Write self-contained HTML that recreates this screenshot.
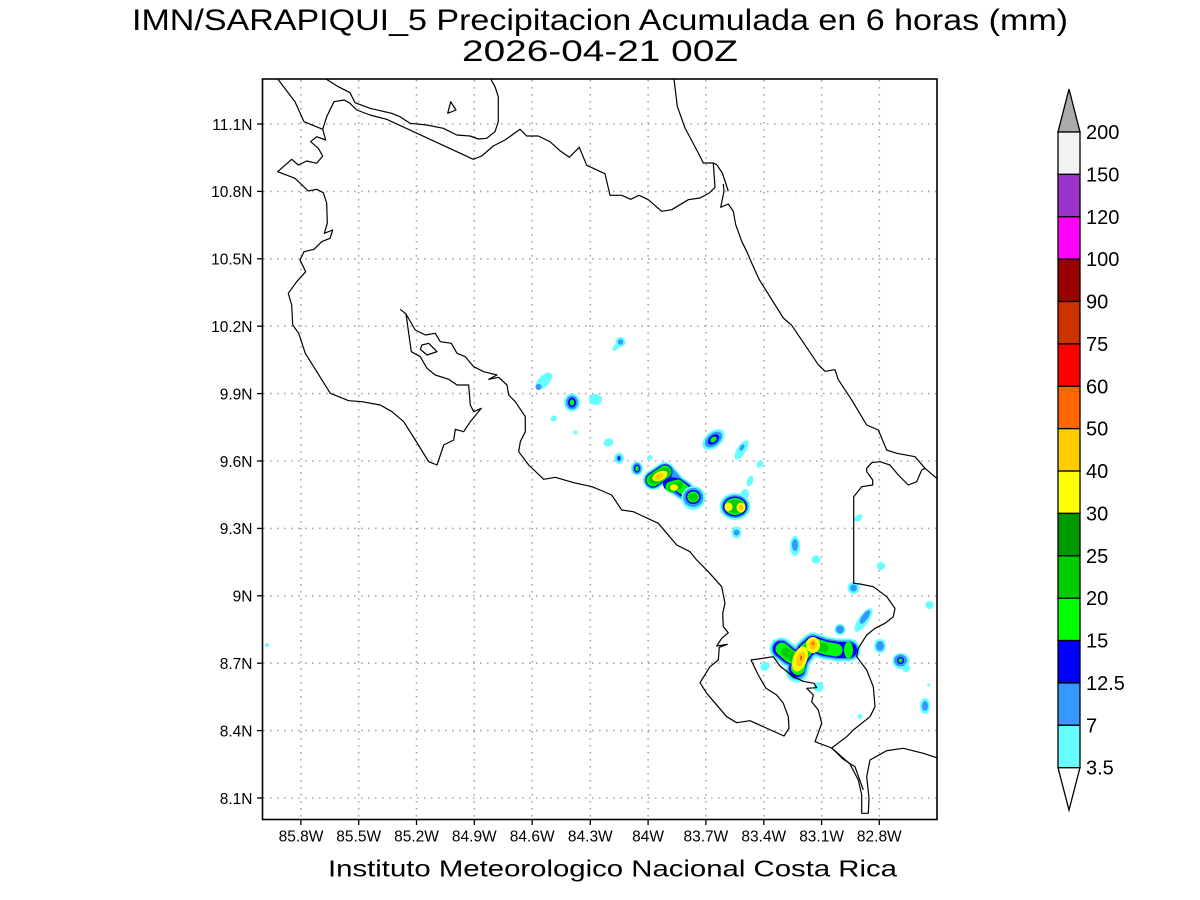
<!DOCTYPE html>
<html>
<head>
<meta charset="utf-8">
<style>
html,body{margin:0;padding:0;background:#fff;}
svg{display:block;}
text{font-family:"Liberation Sans",sans-serif;fill:#000;}
</style>
</head>
<body>
<svg width="1200" height="900" viewBox="0 0 1200 900" xmlns="http://www.w3.org/2000/svg">
<rect x="0" y="0" width="1200" height="900" fill="#fff"/>

<!-- Titles -->
<text x="600" y="30" font-size="30" text-anchor="middle" textLength="936" lengthAdjust="spacingAndGlyphs">IMN/SARAPIQUI_5 Precipitacion Acumulada en 6 horas (mm)</text>
<text x="600" y="61" font-size="30" text-anchor="middle" textLength="276" lengthAdjust="spacingAndGlyphs">2026-04-21 00Z</text>

<!-- Grid -->
<g stroke="#aaaaaa" stroke-width="1.6" stroke-dasharray="1.6 5.4" fill="none">
<line x1="263" y1="124" x2="937" y2="124"/>
<line x1="263" y1="191.4" x2="937" y2="191.4"/>
<line x1="263" y1="258.8" x2="937" y2="258.8"/>
<line x1="263" y1="326.2" x2="937" y2="326.2"/>
<line x1="263" y1="393.6" x2="937" y2="393.6"/>
<line x1="263" y1="461" x2="937" y2="461"/>
<line x1="263" y1="528.4" x2="937" y2="528.4"/>
<line x1="263" y1="595.8" x2="937" y2="595.8"/>
<line x1="263" y1="663.2" x2="937" y2="663.2"/>
<line x1="263" y1="730.6" x2="937" y2="730.6"/>
<line x1="263" y1="798" x2="937" y2="798"/>
<line x1="300.9" y1="80" x2="300.9" y2="819"/>
<line x1="358.7" y1="80" x2="358.7" y2="819"/>
<line x1="416.5" y1="80" x2="416.5" y2="819"/>
<line x1="474.3" y1="80" x2="474.3" y2="819"/>
<line x1="532.2" y1="80" x2="532.2" y2="819"/>
<line x1="590.3" y1="80" x2="590.3" y2="819"/>
<line x1="648.1" y1="80" x2="648.1" y2="819"/>
<line x1="705.9" y1="80" x2="705.9" y2="819"/>
<line x1="763.8" y1="80" x2="763.8" y2="819"/>
<line x1="821.6" y1="80" x2="821.6" y2="819"/>
<line x1="879.3" y1="80" x2="879.3" y2="819"/>
</g>

<!-- Precipitation -->
<g stroke="none">
<!-- 1 -->
<ellipse cx="616" cy="347" rx="4.5" ry="2.5" transform="rotate(-50 616 347)" fill="#66ffff"/>
<circle cx="620.5" cy="342" r="5" fill="#66ffff"/>
<circle cx="620.5" cy="342" r="2.7" fill="#3399ff"/>
<!-- 2 -->
<ellipse cx="544" cy="381" rx="10.5" ry="5.5" transform="rotate(-45 544 381)" fill="#66ffff"/>
<circle cx="538.5" cy="387" r="3" fill="#3399ff"/>
<!-- 3 -->
<ellipse cx="572" cy="402.5" rx="8" ry="9" fill="#66ffff"/>
<ellipse cx="572" cy="402.5" rx="6" ry="7" fill="#3399ff"/>
<ellipse cx="572" cy="402.5" rx="4" ry="5" fill="#0000ff"/>
<ellipse cx="572" cy="402.5" rx="2.2" ry="3" fill="#00ff00"/>
<!-- 4 -->
<ellipse cx="595.5" cy="399.5" rx="6.5" ry="5.5" fill="#66ffff"/>
<circle cx="553.7" cy="418.5" r="3" fill="#66ffff"/>
<circle cx="575.5" cy="432.5" r="2" fill="#66ffff"/>
<ellipse cx="608.5" cy="442.5" rx="5" ry="4" transform="rotate(-20 608.5 442.5)" fill="#66ffff"/>
<!-- 8 -->
<ellipse cx="619" cy="458.3" rx="5" ry="5.5" fill="#66ffff"/>
<ellipse cx="619" cy="458.3" rx="2.6" ry="3.2" fill="#3399ff"/>
<ellipse cx="619" cy="458.3" rx="0.9" ry="2" fill="#0000ff"/>
<circle cx="650" cy="457.5" r="2.5" fill="#66ffff"/>
<!-- 10 -->
<ellipse cx="637" cy="468.5" rx="6" ry="7" fill="#66ffff"/>
<ellipse cx="637" cy="468.5" rx="4.5" ry="5.5" fill="#3399ff"/>
<ellipse cx="637" cy="468.5" rx="3" ry="4" fill="#0000ff"/>
<ellipse cx="637" cy="468.5" rx="1.8" ry="2.6" fill="#00ff00"/>
<!-- blob 1 and 2 -->
<g fill="none" stroke-linecap="round" stroke-linejoin="round">
<polyline points="653,480 665,472 676,485 685,491" stroke="#66ffff" stroke-width="20"/>
<polyline points="653,480 665,472 676,485 685,491" stroke="#3399ff" stroke-width="17"/>
<polyline points="653,480 665,472" stroke="#0000ff" stroke-width="15"/>
<polyline points="670,484 677,485 684,490" stroke="#0000ff" stroke-width="14"/>
<polyline points="653,480 665,472" stroke="#00ff00" stroke-width="13"/>
<polyline points="671,487 678,485 683,489" stroke="#00ff00" stroke-width="11"/>
<polyline points="654,479 665,473" stroke="#00cc00" stroke-width="11"/>
<polyline points="672,488 679,485" stroke="#00cc00" stroke-width="8"/>
</g>
<ellipse cx="660" cy="476" rx="8" ry="4.5" transform="rotate(-25 660 476)" fill="#ffff00"/>
<ellipse cx="659" cy="476.5" rx="5" ry="2.8" transform="rotate(-25 659 476.5)" fill="#ffcc00"/>
<ellipse cx="674" cy="487.5" rx="4" ry="3.2" fill="#ffff00"/>
<!-- 13 -->
<ellipse cx="693.3" cy="498" rx="12" ry="12" fill="#66ffff"/>
<ellipse cx="693.3" cy="497.5" rx="10" ry="9.5" fill="#3399ff"/>
<ellipse cx="693.3" cy="497" rx="7.5" ry="7" fill="#0000ff"/>
<ellipse cx="693.3" cy="497" rx="6" ry="5.5" fill="#00ff00"/>
<ellipse cx="693.3" cy="497" rx="4.5" ry="4" fill="#00cc00"/>
<!-- 14 -->
<ellipse cx="713.5" cy="439.5" rx="13" ry="8" transform="rotate(-40 713.5 439.5)" fill="#66ffff"/>
<ellipse cx="713.5" cy="439.5" rx="10" ry="6" transform="rotate(-40 713.5 439.5)" fill="#3399ff"/>
<ellipse cx="713.5" cy="439.5" rx="6.5" ry="4" transform="rotate(-40 713.5 439.5)" fill="#0000ff"/>
<ellipse cx="713.5" cy="439.5" rx="3.5" ry="2.5" transform="rotate(-40 713.5 439.5)" fill="#00ff00"/>
<!-- 15 -->
<ellipse cx="741.5" cy="450" rx="11" ry="4.5" transform="rotate(-58 741.5 450)" fill="#66ffff"/>
<ellipse cx="742" cy="447.5" rx="3.5" ry="2" transform="rotate(-58 742 447.5)" fill="#3399ff"/>
<ellipse cx="760" cy="464" rx="3" ry="4" transform="rotate(30 760 464)" fill="#66ffff"/>
<ellipse cx="750" cy="481" rx="3" ry="5.5" transform="rotate(20 750 481)" fill="#66ffff"/>
<!-- 18 -->
<ellipse cx="735" cy="506.5" rx="15.5" ry="13.5" fill="#66ffff"/>
<ellipse cx="745" cy="494" rx="4" ry="5" fill="#66ffff"/>
<ellipse cx="735" cy="506.5" rx="13.5" ry="11.5" fill="#3399ff"/>
<ellipse cx="735" cy="506.5" rx="12" ry="10" fill="#0000ff"/>
<ellipse cx="735" cy="506.5" rx="10.5" ry="8.5" fill="#00ff00"/>
<ellipse cx="735" cy="506.5" rx="9" ry="7" fill="#00cc00"/>
<ellipse cx="728.5" cy="507" rx="4" ry="4.5" fill="#ffff00"/>
<ellipse cx="741" cy="507.5" rx="4.5" ry="5" fill="#ffff00"/>
<ellipse cx="741" cy="507.5" rx="2.5" ry="3" fill="#ffcc00"/>
<!-- 19 -->
<ellipse cx="736.5" cy="532.5" rx="5" ry="6" fill="#66ffff"/>
<circle cx="736.5" cy="532.5" r="3" fill="#3399ff"/>
<ellipse cx="858.5" cy="518" rx="4.5" ry="3" transform="rotate(-40 858.5 518)" fill="#66ffff"/>
<ellipse cx="795" cy="546" rx="5" ry="10" fill="#66ffff"/>
<ellipse cx="795" cy="545" rx="3" ry="6" fill="#3399ff"/>
<ellipse cx="816" cy="559.5" rx="4.5" ry="4" fill="#66ffff"/>
<circle cx="881" cy="566" r="4" fill="#66ffff"/>
<circle cx="853.5" cy="588" r="6" fill="#66ffff"/>
<circle cx="853.5" cy="588" r="3.5" fill="#3399ff"/>
<circle cx="929.5" cy="605" r="4" fill="#66ffff"/>
<!-- 26 -->
<ellipse cx="863.5" cy="620" rx="5" ry="14" transform="rotate(35 863.5 620)" fill="#66ffff"/>
<ellipse cx="865" cy="617" rx="3" ry="8" transform="rotate(35 865 617)" fill="#3399ff"/>
<circle cx="840" cy="629.5" r="5.5" fill="#66ffff"/>
<circle cx="840" cy="629.5" r="4" fill="#3399ff"/>
<!-- big SE blob -->
<g fill="none" stroke-linecap="round" stroke-linejoin="round">
<polyline points="781,649 790,656 799,660 806,650 813,644 825,648 838,650 849,650" stroke="#66ffff" stroke-width="23"/>
<polyline points="799,660 797,671" stroke="#66ffff" stroke-width="23"/>
<polyline points="781,649 790,656 799,660 806,650 813,644 825,648 838,650 849,650" stroke="#3399ff" stroke-width="19"/>
<polyline points="799,660 797,670" stroke="#3399ff" stroke-width="19"/>
<polyline points="781,649 790,656 799,660 806,650 813,644 825,648 838,650 849,650" stroke="#0000ff" stroke-width="16"/>
<polyline points="799,660 797,669" stroke="#0000ff" stroke-width="16"/>
<polyline points="782,649 790,656 799,660 806,650 813,644 825,648 836,650" stroke="#00ff00" stroke-width="13"/>
<polyline points="799,660 798,668" stroke="#00ff00" stroke-width="14"/>
<polyline points="786,652 794,658 800,658 808,648 814,645 824,648" stroke="#00cc00" stroke-width="9"/>
</g>
<ellipse cx="848.5" cy="650" rx="4.5" ry="8.5" fill="#00ff00"/>
<ellipse cx="800" cy="659" rx="7" ry="13" transform="rotate(20 800 659)" fill="#ffff00"/>
<ellipse cx="800.5" cy="659" rx="4" ry="8" transform="rotate(20 800.5 659)" fill="#ffcc00"/>
<ellipse cx="801" cy="658" rx="1" ry="2.5" fill="#ff6600"/>
<ellipse cx="813" cy="645" rx="7" ry="8" fill="#ffff00"/>
<ellipse cx="813" cy="644.5" rx="4" ry="5" fill="#ffcc00"/>
<circle cx="813" cy="643.5" r="1.5" fill="#ff6600"/>
<!-- others -->
<ellipse cx="765" cy="666.5" rx="5" ry="4" transform="rotate(-30 765 666.5)" fill="#66ffff"/>
<circle cx="818.5" cy="687" r="5" fill="#66ffff"/>
<circle cx="860" cy="716.5" r="2.5" fill="#66ffff"/>
<ellipse cx="880" cy="646" rx="6" ry="7" fill="#66ffff"/>
<ellipse cx="880" cy="646" rx="4" ry="5" fill="#3399ff"/>
<ellipse cx="901" cy="661" rx="8.5" ry="8" fill="#66ffff"/>
<ellipse cx="906" cy="668" rx="4" ry="4" fill="#66ffff"/>
<ellipse cx="900.5" cy="660.5" rx="6.5" ry="6" fill="#3399ff"/>
<ellipse cx="900.5" cy="660.5" rx="3.5" ry="3.5" fill="#0000ff"/>
<circle cx="900.5" cy="660.5" r="2" fill="#00ff00"/>
<ellipse cx="925" cy="706" rx="5" ry="8" fill="#66ffff"/>
<ellipse cx="925" cy="706" rx="3" ry="5" fill="#3399ff"/>
<circle cx="928.7" cy="685" r="1.5" fill="#66ffff"/>
<circle cx="267" cy="645" r="2" fill="#66ffff"/>
</g>

<!-- Coastlines -->
<g fill="none" stroke="#000" stroke-width="1.2" stroke-linejoin="round">
<polyline points="277.7,79 295,101.7 304,121.7 322.7,129.3 325.7,140 316.7,136.7 310.7,141.7 318.3,148.3 322.7,156 316.7,163.3 306.7,161 298.3,165 291.7,159.3 277.7,171.7 295,178.3 308.3,191 316.7,189.3 323.3,192.7 326.7,203.3 327.3,223.3 324.3,233.3 332.7,230 330,238.3 321.7,241.7 314,249.3 304,251.7 300,260 305.7,271.7 296.7,281.7 288.3,293.3 291.7,305 292.7,325 298.7,333.3 305.3,353.3 330.3,393.3 348.7,400.7 362,401.7 380.3,405 392,411.7 403.7,421.7 415.3,440 428.7,461.7 437,465 443.7,445 453.7,440 455.3,429.3 463.7,431.7 470.3,421.7 481.3,408.3 473.7,411.7 470.3,405 468.7,385 457,385 448.7,379.3 435.3,375 427,368.3 420.3,356.7 411.3,351.7 406,314 400.3,309.3"/>
<polyline points="406,314 415.3,330 425.3,335 435.3,333.3 440.3,341.7 451.3,343.3 457,353.3 465.3,356.7 473.7,366.7 483.7,371.7 497,375 488.7,379.3 498.7,377.3 507,385 508.7,395 515.3,401.7 525.3,416.7 525.3,431.7 520.3,441.7 518.7,451.7 528.7,465 543.7,479.3 555.3,477.3 573.7,482.7 592,486.7 600,490 611.7,495 621.7,510 633.3,511.7 658.3,523.3 676.7,545 690,551.7 696.7,560 708.3,571.7 721.7,586.7 725,603.3 722.7,613.3 723.3,626.7 728.3,632.7 721.7,638.3 716.7,646 727.3,644.3 719.3,647.3 718.3,660 710,666.7 700,682.7 706.7,693.3 726.7,716.7 736.7,722.7 750,720.7 784,736 789,728.3 788.3,716.7 783.3,703.3 776.7,695 766,688.3 758.3,675 751,660 773.3,656.7 780,666 793.3,676.7 803.3,681.3 814,683.3 816.7,687.7 806.7,688.3 813.3,695 811.7,701.7 818.3,710 821.7,723.3 815,741.7 831.7,748 850,764 858.3,780 861.7,795 861.7,813.3 868.3,813.3 869,798.3 866.7,776.7 870,760 886.7,750.7 903.3,748.3 923.3,753.3 936.7,757.7"/>
<polyline points="831.7,748 843.3,759.3 855,766.7 863.3,790"/>
<polyline points="831.7,748 846.7,736.7 853.3,730 870,716.7 875,706.7 873.3,686.7 866.7,670 856.7,656.7 858.3,648.3 866.7,635 875,628.3 885,623.3 893.3,616.7 895,608.3 886.7,596.7 873.3,586.7 860,584 853.7,583.3 853.7,496.7 861.7,486.7 872.7,485 872.7,480 866.7,471.7 866.7,468.3 871.7,462.7 880,461.7 890,465 898.3,475 908.3,485 916.7,481.7 921.7,470 925,468.3"/>
<polyline points="326,79 338.3,86.7 350,92.7 355,102.7 370,108.3 391.7,113.3 400,116.7 410,123.3 426.7,125 443.3,128.3 456.7,135 470,136 478.3,139 486.7,138.3 495,131.7 498.3,121.7 498.3,96.7 495,86.7 490.7,79"/>
<polyline points="322.7,129.3 326.7,116.7 334,101.7 344.3,100 350,103.3 356.7,110 370,115 386.7,119.3 473.3,159.3 481.7,156 493.3,146 505,140 520,129.3 526.7,136 538.3,136 550,141.7 560,150.7 569.3,157.3 579.3,147.3 586.7,165.3 605,173.7 610,195.3 621.7,195.3 630.7,199.3 639,195.3 648.3,199.7 661.7,211.3 671.7,209.7 688.3,199.7 700,198 709.3,193 715,187.3 713.3,163 703.3,163 698.3,153 685,128 677.3,106.3 674,79"/>
<polyline points="713.3,163 716.7,164.7 722.3,173 726,184 728.3,191.3"/>
<polyline points="723.3,184 724,191.3 720.7,207.3 728.3,204 733.3,211.3 735.7,224.7 741.7,241.3 746.7,251.3 751.7,263 759.3,279.7 783.3,318 791.7,325.3 818.3,364.7 825,371.3 835,369.7 838.3,379.7 850,397.3 851.7,400 866.7,425 878.3,430 886.7,450 896.7,453.3 915,456.7 925,468.3 936.7,478.3"/>
<polygon points="447.7,113.3 450.7,101.7 456,110"/>
<polygon points="422,345 428.7,343.3 437,351.7 427,355 420.3,349.3"/>
</g>

<!-- Frame -->
<rect x="262.5" y="79" width="674.5" height="740.5" fill="none" stroke="#000" stroke-width="1.6"/>

<!-- Ticks -->
<g stroke="#000" stroke-width="1.3">
<line x1="257" y1="124" x2="262.5" y2="124"/>
<line x1="257" y1="191.4" x2="262.5" y2="191.4"/>
<line x1="257" y1="258.8" x2="262.5" y2="258.8"/>
<line x1="257" y1="326.2" x2="262.5" y2="326.2"/>
<line x1="257" y1="393.6" x2="262.5" y2="393.6"/>
<line x1="257" y1="461" x2="262.5" y2="461"/>
<line x1="257" y1="528.4" x2="262.5" y2="528.4"/>
<line x1="257" y1="595.8" x2="262.5" y2="595.8"/>
<line x1="257" y1="663.2" x2="262.5" y2="663.2"/>
<line x1="257" y1="730.6" x2="262.5" y2="730.6"/>
<line x1="257" y1="798" x2="262.5" y2="798"/>
<line x1="300.9" y1="819.5" x2="300.9" y2="825"/>
<line x1="358.7" y1="819.5" x2="358.7" y2="825"/>
<line x1="416.5" y1="819.5" x2="416.5" y2="825"/>
<line x1="474.3" y1="819.5" x2="474.3" y2="825"/>
<line x1="532.2" y1="819.5" x2="532.2" y2="825"/>
<line x1="590.3" y1="819.5" x2="590.3" y2="825"/>
<line x1="648.1" y1="819.5" x2="648.1" y2="825"/>
<line x1="705.9" y1="819.5" x2="705.9" y2="825"/>
<line x1="763.8" y1="819.5" x2="763.8" y2="825"/>
<line x1="821.6" y1="819.5" x2="821.6" y2="825"/>
<line x1="879.3" y1="819.5" x2="879.3" y2="825"/>
</g>

<!-- Y labels -->
<g font-size="15.5" text-anchor="end">
<text x="252.5" y="129.8">11.1N</text>
<text x="252.5" y="197.2">10.8N</text>
<text x="252.5" y="264.6">10.5N</text>
<text x="252.5" y="332">10.2N</text>
<text x="252.5" y="399.4">9.9N</text>
<text x="252.5" y="466.8">9.6N</text>
<text x="252.5" y="534.2">9.3N</text>
<text x="252.5" y="601.6">9N</text>
<text x="252.5" y="669">8.7N</text>
<text x="252.5" y="736.4">8.4N</text>
<text x="252.5" y="803.8">8.1N</text>
</g>

<!-- X labels -->
<g font-size="15.5" text-anchor="middle">
<text x="301" y="841.5">85.8W</text>
<text x="358.7" y="841.5">85.5W</text>
<text x="416.5" y="841.5">85.2W</text>
<text x="474.3" y="841.5">84.9W</text>
<text x="532.2" y="841.5">84.6W</text>
<text x="590.3" y="841.5">84.3W</text>
<text x="648.1" y="841.5">84W</text>
<text x="705.9" y="841.5">83.7W</text>
<text x="763.8" y="841.5">83.4W</text>
<text x="821.6" y="841.5">83.1W</text>
<text x="879.3" y="841.5">82.8W</text>
</g>

<!-- Footer -->
<text x="612.5" y="876.5" font-size="23" text-anchor="middle" textLength="569" lengthAdjust="spacingAndGlyphs" fill="#222">Instituto Meteorologico Nacional Costa Rica</text>

<!-- Colorbar -->
<g stroke="#000" stroke-width="1.3">
<polygon points="1069,89 1058,132 1080,132" fill="#aaaaaa"/>
<rect x="1058" y="132" width="22" height="42.38" fill="#f2f2f2"/>
<rect x="1058" y="174.38" width="22" height="42.38" fill="#9933cc"/>
<rect x="1058" y="216.76" width="22" height="42.38" fill="#ff00ff"/>
<rect x="1058" y="259.14" width="22" height="42.38" fill="#990000"/>
<rect x="1058" y="301.52" width="22" height="42.38" fill="#cc3300"/>
<rect x="1058" y="343.9" width="22" height="42.38" fill="#ff0000"/>
<rect x="1058" y="386.28" width="22" height="42.38" fill="#ff6600"/>
<rect x="1058" y="428.66" width="22" height="42.38" fill="#ffcc00"/>
<rect x="1058" y="471.04" width="22" height="42.38" fill="#ffff00"/>
<rect x="1058" y="513.42" width="22" height="42.38" fill="#009900"/>
<rect x="1058" y="555.8" width="22" height="42.38" fill="#00cc00"/>
<rect x="1058" y="598.18" width="22" height="42.38" fill="#00ff00"/>
<rect x="1058" y="640.56" width="22" height="42.38" fill="#0000ff"/>
<rect x="1058" y="682.94" width="22" height="42.38" fill="#3399ff"/>
<rect x="1058" y="725.32" width="22" height="42.38" fill="#66ffff"/>
<polygon points="1058,767.7 1080,767.7 1069,810" fill="#ffffff"/>
</g>
<g font-size="20">
<text x="1086" y="139">200</text>
<text x="1086" y="181.4">150</text>
<text x="1086" y="223.8">120</text>
<text x="1086" y="266.1">100</text>
<text x="1086" y="308.5">90</text>
<text x="1086" y="350.9">75</text>
<text x="1086" y="393.3">60</text>
<text x="1086" y="435.7">50</text>
<text x="1086" y="478">40</text>
<text x="1086" y="520.4">30</text>
<text x="1086" y="562.8">25</text>
<text x="1086" y="605.2">20</text>
<text x="1086" y="647.6">15</text>
<text x="1086" y="690">12.5</text>
<text x="1086" y="732.3">7</text>
<text x="1086" y="774.7">3.5</text>
</g>
</svg>
</body>
</html>
